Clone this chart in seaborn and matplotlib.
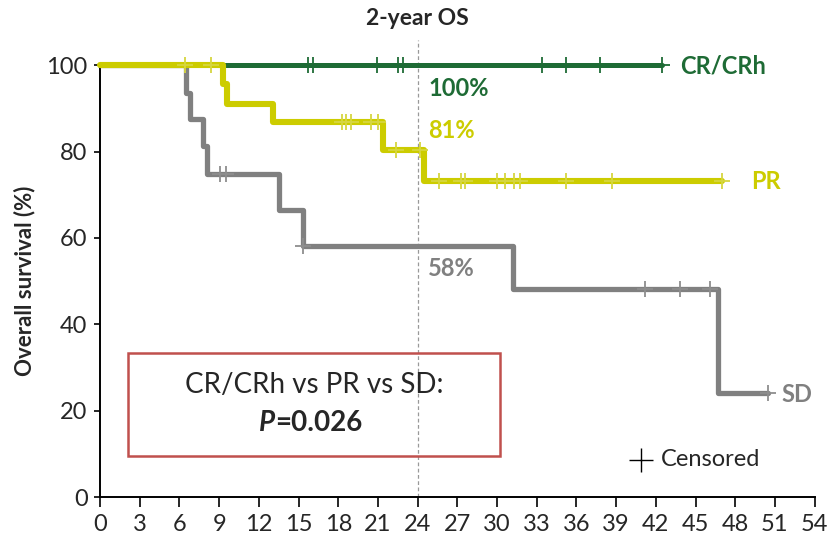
import numpy as np
import pandas as pd
import matplotlib.pyplot as plt
import seaborn as sns
from matplotlib.patches import Rectangle

sns.set_style("ticks")
plt.rcParams['font.family'] = ['Lato', 'DejaVu Sans']

# Kaplan-Meier step curves (months, % alive)
cr_time = [0, 42.5]
cr_surv = [100, 100]
cr_cens = [15.7, 16.1, 20.9, 22.5, 22.9, 33.4, 35.2, 37.8, 42.5]

pr_time = [0, 9.3, 9.6, 13.1, 21.4, 24.5, 47.0]
pr_surv = [100, 95.7, 91.1, 86.8, 80.5, 73.3, 73.3]
pr_cens = [6.4, 8.4, 18.3, 18.6, 19.0, 20.5, 21.0, 22.4, 24.2, 25.6, 27.3,
           27.6, 30.0, 30.6, 31.3, 31.7, 35.2, 38.7, 47.0]

sd_time = [0, 6.5, 6.8, 7.8, 8.1, 13.5, 15.3, 31.2, 46.7, 50.5]
sd_surv = [100, 93.5, 87.5, 81.2, 74.8, 66.4, 58.1, 48.1, 24.1, 24.1]
sd_cens = [9.1, 9.5, 15.3, 41.2, 43.8, 46.1, 50.5]

groups = ['CR/CRh', 'PR', 'SD']
os_2yr = ['100%', '81%', '58%']
x_ticks = list(range(0, 55, 3))
y_ticks = list(range(0, 101, 20))

green = '#1E6B35'
yellow = '#CCCC00'
grey = '#808080'


def surv_at(times, surv, t):
    i = np.searchsorted(times, t, side='right') - 1
    return np.array(surv)[i]


fig = plt.figure(figsize=(8.27, 5.43), dpi=100)
ax = fig.add_axes([0.121, 0.0847, 0.864, 0.795])

curves = [
    (cr_time, cr_surv, cr_cens, green, green, 3.6),
    (sd_time, sd_surv, sd_cens, grey, '#8E8E8E', 3.8),
    (pr_time, pr_surv, pr_cens, yellow, '#D6D640', 4.4),
]
for k, (t, s, c, col, ccol, lw) in enumerate(curves):
    sns.lineplot(x=t, y=s, drawstyle='steps-post', estimator=None, sort=False,
                 color=col, linewidth=lw, ax=ax, clip_on=False, zorder=3 + k)
    sns.scatterplot(x=c, y=surv_at(t, s, c), marker='+', s=130, color=ccol,
                    linewidth=1.3, ax=ax, clip_on=False, zorder=3 + k)

# 2-year landmark
ax.plot([24, 24], [0, 105.8], ls=(0, (3, 2)), color='#999999', lw=0.9,
        clip_on=False, zorder=1)
ax.text(24, 110.9, '2-year OS', ha='center', va='center', fontsize=16.5,
        fontweight='bold')

# survival at 2 years
ax.text(24.8, 94.7, os_2yr[0], color=green, fontsize=17, fontweight='bold', va='center')
ax.text(24.8, 85.0, os_2yr[1], color=yellow, fontsize=17, fontweight='bold', va='center')
ax.text(24.8, 53.0, os_2yr[2], color=grey, fontsize=17, fontweight='bold', va='center')

# group labels
ax.text(43.8, 99.8, groups[0], color=green, fontsize=17, fontweight='bold', va='center')
ax.text(49.2, 73.1, groups[1], color=yellow, fontsize=17, fontweight='bold', va='center')
ax.text(51.5, 23.8, groups[2], color=grey, fontsize=17, fontweight='bold', va='center')

# p-value box
ax.add_patch(Rectangle((2.1, 9.5), 28.1, 23.8, fill=False, edgecolor='#C0504D',
                       linewidth=1.8, zorder=2))
ax.text(16.2, 25.9, 'CR/CRh vs PR vs SD:', ha='center', va='center', fontsize=20)
ax.text(13.2, 17.1, 'P', ha='right', va='center', fontsize=20,
        fontweight='bold', fontstyle='italic')
ax.text(13.2, 17.1, '=0.026', ha='left', va='center', fontsize=20, fontweight='bold')

# censored key
ax.scatter([40.9], [8.6], marker='+', s=300, color='black', linewidth=1.0, clip_on=False)
ax.text(42.4, 8.6, 'Censored', va='center', fontsize=17)

ax.set_xlim(0, 54)
ax.set_ylim(0, 100)
ax.set_xticks(x_ticks)
ax.set_yticks(y_ticks)
ax.set_xlabel('')
ax.set_ylabel('Overall survival (%)', fontsize=16, fontweight='bold', labelpad=8)
ax.tick_params(axis='x', length=7, width=1.4, labelsize=17, pad=5)
ax.tick_params(axis='y', length=4, width=1.4, labelsize=17, pad=5)
sns.despine(ax=ax)
for sp in ['left', 'bottom']:
    ax.spines[sp].set_linewidth(1.4)
    ax.spines[sp].set_color('black')

fig.savefig('out.png', dpi=100)
